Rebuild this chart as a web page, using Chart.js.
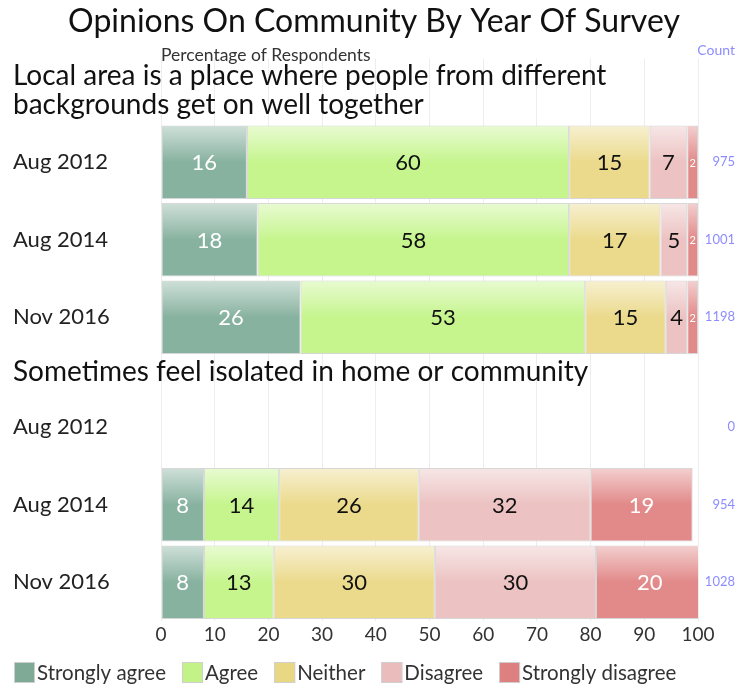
<!DOCTYPE html>
<html>
<head>
<meta charset="utf-8">
<script src="https://cdn.jsdelivr.net/npm/chart.js@4/dist/chart.umd.min.js"></script>
<style>
  html, body { margin: 0; padding: 0; background: #fff; }
  #wrap { width: 737px; height: 690px; position: relative; }
</style>
</head>
<body>
<div id="wrap"><canvas id="chart"></canvas></div>
<script>
const FONT = "Lato, 'Open Sans', sans-serif";

// Questions (heading lines) and survey waves shown under each one
const questionLines = [
  ['Local area is a place where people from different', 'backgrounds get on well together'],
  ['Sometimes feel isolated in home or community']
];
const surveys = ['Aug 2012', 'Aug 2014', 'Nov 2016'];
const responses = ['Strongly agree', 'Agree', 'Neither', 'Disagree', 'Strongly disagree'];

// % of respondents, question 1 waves then question 2 waves (null = not asked)
const stronglyAgree    = [16, 18, 26, null, 8, 8];
const agree            = [60, 58, 53, null, 14, 13];
const neither          = [15, 17, 15, null, 26, 30];
const disagree         = [7, 5, 4, null, 32, 30];
const stronglyDisagree = [2, 2, 2, null, 19, 20];
const counts           = [975, 1001, 1198, 0, 954, 1028];
const xTicks = [0, 10, 20, 30, 40, 50, 60, 70, 80, 90, 100];

const colors = ['#88b2a0', '#c6f58e', '#ebda8c', '#ecc2c2', '#e28989'];
const legendColors = ['#7faa96', '#c3f288', '#e8d883', '#ebbcbc', '#df8080'];
const labelColors = ['#fff', '#111', '#111', '#111', '#fff'];

// work out row centres: heading bands take space proportional to their lines
const HEAD_LINE = 0.42;
let pos = 0;
const rowPos = [];
const rowLabels = [];
const headings = [];
questionLines.forEach(lines => {
  const h = lines.length * HEAD_LINE;
  headings.push({ lines, from: pos, to: pos + h });
  pos += h;
  surveys.forEach(s => {
    rowPos.push(pos + 0.5);
    rowLabels.push(s);
    pos += 1;
  });
});
const yMax = pos;

const series = [stronglyAgree, agree, neither, disagree, stronglyDisagree];
const datasets = series.map((vals, i) => ({
  label: responses[i],
  data: vals.map((v, j) => ({ x: v, y: rowPos[j] })),
  backgroundColor: colors[i],
  borderColor: '#d6d6d6',
  borderWidth: 1,
  borderSkipped: false,
  barPercentage: 0.95,
  categoryPercentage: 1
}));

// glossy top half on each bar
const gloss = {
  id: 'gloss',
  afterDatasetsDraw(chart) {
    const ctx = chart.ctx;
    chart.data.datasets.forEach((ds, i) => {
      chart.getDatasetMeta(i).data.forEach((bar, j) => {
        if (ds.data[j].x == null) return;
        const p = bar.getProps(['x', 'y', 'base', 'height'], true);
        const left = Math.min(p.x, p.base);
        const w = Math.abs(p.x - p.base);
        const top = p.y - p.height / 2;
        const g = ctx.createLinearGradient(0, top, 0, top + p.height * 0.5);
        g.addColorStop(0, 'rgba(255,255,255,0.6)');
        g.addColorStop(1, 'rgba(255,255,255,0)');
        ctx.save();
        ctx.fillStyle = g;
        ctx.fillRect(left + 1, top + 1, w - 2, p.height * 0.5);
        ctx.restore();
      });
    });
  }
};

// value labels, question headings, count header and the legend row
const annotate = {
  id: 'annotate',
  afterDraw(chart) {
    const ctx = chart.ctx;
    const yScale = chart.scales.y;
    ctx.save();
    ctx.textBaseline = 'middle';

    chart.data.datasets.forEach((ds, i) => {
      chart.getDatasetMeta(i).data.forEach((bar, j) => {
        const v = ds.data[j].x;
        if (v == null || v === 0) return;
        const p = bar.getProps(['x', 'y', 'base'], true);
        const w = Math.abs(p.x - p.base);
        const txt = String(v);
        let size = 22;
        ctx.font = size + 'px ' + FONT;
        if (ctx.measureText(txt).width + 4 > w) {
          size = 11;
          ctx.font = size + 'px ' + FONT;
        }
        ctx.fillStyle = labelColors[i];
        ctx.textAlign = 'center';
        ctx.fillText(txt, (p.x + p.base) / 2, p.y + 1);
      });
    });

    ctx.fillStyle = '#111';
    ctx.textAlign = 'left';
    ctx.font = '28px ' + FONT;
    headings.forEach(h => {
      const mid = (yScale.getPixelForValue(h.from) + yScale.getPixelForValue(h.to)) / 2;
      const lh = 29;
      const first = mid - (h.lines.length - 1) * lh / 2;
      h.lines.forEach((line, k) => ctx.fillText(line, 13, first + k * lh));
    });

    ctx.fillStyle = '#8c8cff';
    ctx.textAlign = 'right';
    ctx.font = '14px ' + FONT;
    ctx.fillText('Count', 735, 50);

    // legend
    let lx = 14;
    const ly = 662;
    ctx.textAlign = 'left';
    ctx.font = '20.5px ' + FONT;
    responses.forEach((name, i) => {
      ctx.fillStyle = legendColors[i];
      ctx.fillRect(lx, ly, 21, 21);
      ctx.strokeStyle = '#cfcfcf';
      ctx.lineWidth = 1;
      ctx.strokeRect(lx + 0.5, ly + 0.5, 20, 20);
      ctx.fillStyle = '#333';
      ctx.fillText(name, lx + 23, ly + 11);
      lx += 23 + ctx.measureText(name).width + 16;
    });
    ctx.restore();
  }
};

new Chart(document.getElementById('chart'), {
  type: 'bar',
  data: { datasets },
  plugins: [gloss, annotate],
  options: {
    indexAxis: 'y',
    responsive: true,
    maintainAspectRatio: false,
    animation: false,
    layout: { padding: { left: 13, right: 2, bottom: 35 } },
    plugins: {
      title: {
        display: true,
        text: 'Opinions On Community By Year Of Survey',
        color: '#111',
        font: { family: FONT, size: 32, weight: 'normal' },
        padding: { top: 2, bottom: 4 }
      },
      legend: { display: false },
      tooltip: { enabled: false }
    },
    scales: {
      x: {
        min: 0,
        max: 100,
        stacked: true,
        z: 1,
        afterBuildTicks: s => { s.ticks = xTicks.map(v => ({ value: v })); },
        ticks: { color: '#333', padding: 2, font: { family: FONT, size: 19 } },
        grid: { color: 'rgba(0,0,0,0.07)', drawTicks: false },
        border: { display: false },
        afterFit: s => { s.height = 34; }
      },
      x2: {
        type: 'linear',
        position: 'top',
        min: 0,
        max: 100,
        ticks: { display: false },
        grid: { display: false },
        border: { display: false },
        title: {
          display: true,
          text: 'Percentage of Respondents',
          align: 'start',
          color: '#333',
          padding: { top: 0, bottom: 4 },
          font: { family: FONT, size: 17.5 }
        },
        afterFit: s => { s.height = 14; }
      },
      y: {
        type: 'linear',
        min: 0,
        max: yMax,
        reverse: true,
        stacked: true,
        offset: false,
        afterBuildTicks: s => { s.ticks = rowPos.map(v => ({ value: v })); },
        ticks: {
          callback: (v, i) => rowLabels[i],
          crossAlign: 'far',
          color: '#222',
          font: { family: FONT, size: 22 }
        },
        grid: { display: false, offset: false },
        border: { display: false },
        afterFit: s => { s.width = 148; }
      },
      y2: {
        type: 'linear',
        position: 'right',
        min: 0,
        max: yMax,
        reverse: true,
        offset: false,
        afterBuildTicks: s => { s.ticks = rowPos.map(v => ({ value: v })); },
        ticks: {
          callback: (v, i) => String(counts[i]),
          crossAlign: 'far',
          color: '#8c8cff',
          font: { family: FONT, size: 13 }
        },
        grid: { display: false },
        border: { display: false },
        afterFit: s => { s.width = 37; }
      }
    }
  }
});
</script>
</body>
</html>
